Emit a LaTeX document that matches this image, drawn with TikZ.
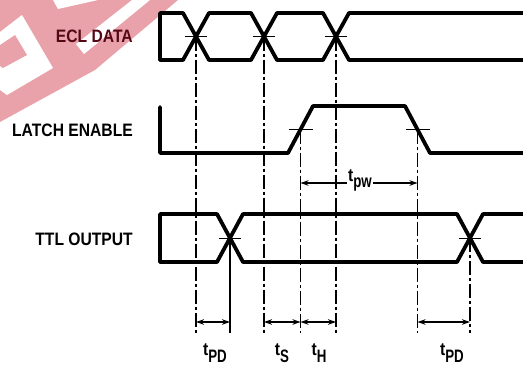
\documentclass[tikz,border=0pt]{standalone}
\usepackage{fontspec}
\setmainfont{Liberation Sans}
\newfontfamily\labfont[FakeStretch=0.87]{Liberation Sans Bold}
\newfontfamily\subfont[FakeStretch=0.74]{Liberation Sans Bold}
\usetikzlibrary{arrows.meta}
\definecolor{wm}{RGB}{233,162,170}
\definecolor{maroon}{RGB}{85,8,20}
\newcommand{\tsub}[1]{t\raisebox{-7pt}{\subfont\fontsize{18}{18}\selectfont #1}}
\begin{document}
\begin{tikzpicture}[x=1pt,y=-1pt,
  sig/.style={line width=3.8pt, line join=round, line cap=round},
  guide/.style={line width=1.3pt, dash pattern=on 14pt off 3pt on 3pt off 3pt},
  tickmark/.style={line width=0.9pt},
  dim/.style={line width=1.3pt, {Stealth[length=8pt,width=5.5pt]}-{Stealth[length=8pt,width=5.5pt]}},
  lab/.style={font=\labfont\fontsize{18}{18}\selectfont, anchor=east, inner sep=0pt},
  tl/.style={font=\labfont\fontsize{18}{18}\selectfont, inner sep=1pt}]
\useasboundingbox (0,0) rectangle (523,367);
% watermark
\fill[wm] (0,0)--(178,0)--(95,70)--(0,122)--cycle;
\fill[white] (0,32)--(22,15)--(53,68)--(7,95)--(0,90)--cycle;
\fill[wm] (0,45)--(15,35)--(27,55)--(3,68)--(0,66)--cycle;
\fill[white] (76,44)--(84,54)--(150,0)--(132,0)--cycle;
\fill[white] (53,0)--(98,0)--(58,9)--cycle;
% labels
\node[lab, text=maroon] (ecl) at (133,36) {ECL DATA};
\node[lab] (le) at (133,130) {LATCH ENABLE};
\node[lab] (ttl) at (133,239) {TTL OUTPUT};
% key coordinates
\coordinate (e1) at (196,36.5);
\coordinate (e2) at (264,36.5);
\coordinate (e3) at (336,36.5);
\coordinate (l1) at (300.5,129.5);
\coordinate (l2) at (417.5,129.5);
\coordinate (t1) at (230,238);
\coordinate (t2) at (470,238);
\coordinate (bot) at (0,333);
% ECL DATA waveform
\draw[sig] (160,60)--(160,13)--(183,13)--(209,60)--(251,60)--(277,13)--(323,13)--(349,60)--(525,60);
\draw[sig] (160,60)--(183,60)--(209,13)--(251,13)--(277,60)--(323,60)--(349,13)--(525,13);
% LATCH ENABLE waveform
\draw[sig] (160,107)--(160,153)--(288,153)--(313,106)--(405,106)--(430,153)--(525,153);
% TTL OUTPUT waveform
\draw[sig] (160,262)--(160,214)--(217,214)--(243,262)--(457,262)--(483,214)--(525,214);
\draw[sig] (160,262)--(217,262)--(243,214)--(457,214)--(483,262)--(525,262);
% crossing ticks
\foreach \c in {e1,e2,e3,t1,t2} \draw[tickmark] ([xshift=-11pt]\c) -- ([xshift=11pt]\c);
\foreach \c in {l1,l2} \draw[tickmark] ([xshift=-12pt]\c) -- ([xshift=12pt]\c);
% guide lines
\draw[guide] (e1) -- (e1 |- bot);
\draw[guide] (e2) -- (e2 |- bot);
\draw[guide] (e3) -- (e3 |- bot);
\draw[guide] (l1) -- (l1 |- bot);
\draw[guide] (l2) -- (l2 |- bot);
\draw[guide] (t2) -- (t2 |- bot);
\draw[line width=1.3pt] (t1) -- (t1 |- bot);
% dimension arrows
\coordinate (ay) at (0,322);
\draw[dim] (e1 |- ay) -- (t1 |- ay);
\draw[dim] (e2 |- ay) -- (l1 |- ay);
\draw[dim] (l1 |- ay) -- (e3 |- ay);
\draw[dim] (l2 |- ay) -- (t2 |- ay);
\coordinate (py) at (0,183);
\draw[dim] (l1 |- py) -- (l2 |- py);
\node[tl, fill=white] (tpw) at (360,180) {t\raisebox{-6pt}{\subfont\fontsize{18}{18}\selectfont pw}};
% timing labels
\node[tl] (tpd1) at (215,353) {\tsub{PD}};
\node[tl] (ts) at (282,353) {\tsub{S}};
\node[tl] (th) at (319,353) {\tsub{H}};
\node[tl] (tpd2) at (452,353) {\tsub{PD}};
\end{tikzpicture}
\end{document}
